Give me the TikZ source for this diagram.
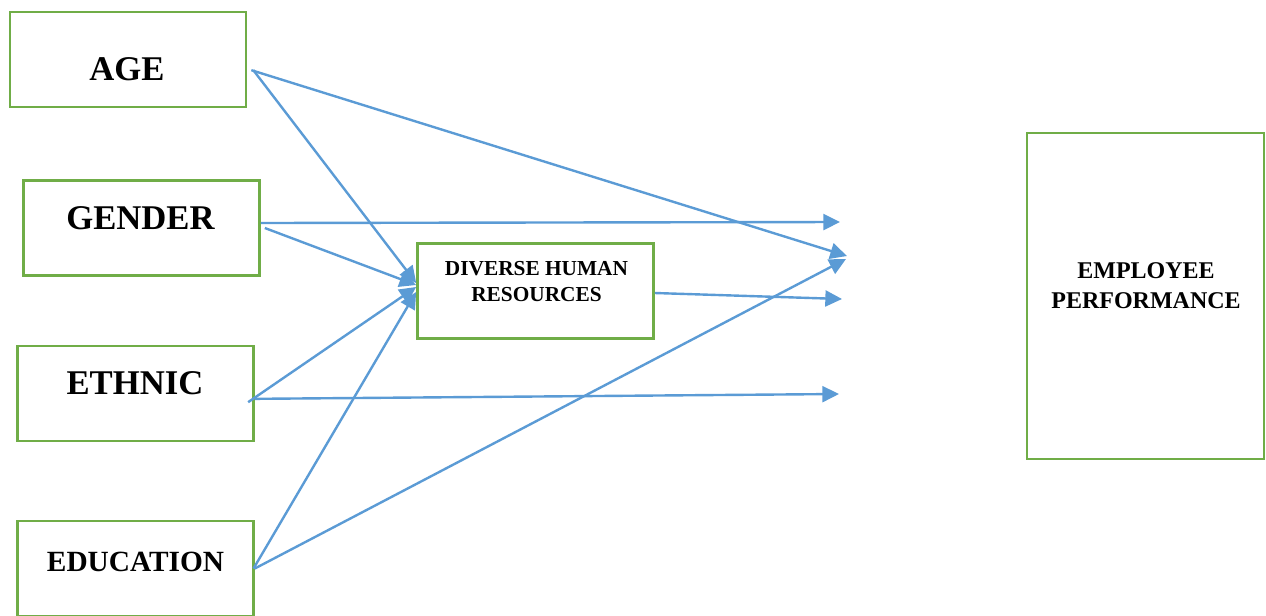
\documentclass[tikz,border=0pt]{standalone}
\usepackage{fontspec}
\setmainfont{Liberation Serif}
\usetikzlibrary{arrows.meta}
\definecolor{boxgreen}{HTML}{70AD47}
\definecolor{linkblue}{HTML}{5B9BD5}

\begin{document}
\begin{tikzpicture}[x=.75pt,y=-.75pt,
	box/.style={draw=boxgreen,line width=2pt,inner sep=0,minimum width=177pt,minimum height=71.25pt},
	lbl/.style={font=\bfseries\fontsize{26}{31}\selectfont,anchor=base,inner sep=0},
	link/.style={draw=linkblue,line width=1.8pt,-{Triangle[length=12.5pt,width=12pt]}}]
\useasboundingbox (0,0) rectangle (1266,615);
\clip (0,0) rectangle (1266,615);
% boxes
\node[box] (age) at (128,59.5) {};
\node[box] (gender) at (141.5,228) {};
\node[box] (ethnic) at (135.5,393.5) {};
\node[box] (education) at (135.5,568.5) {};
\node[box] (dhr) at (535.5,291) {};
\node[box,minimum width=177.75pt,minimum height=244.5pt] (emp) at (1145.5,296) {};
% texts
\node[lbl] (age-t) at (127,80) {AGE};
\node[lbl] (gender-t) at (140.5,229) {GENDER};
\node[lbl] (ethnic-t) at (135,394) {ETHNIC};
\node[lbl,font=\bfseries\fontsize{22}{26}\selectfont] (education-t) at (135.5,571) {EDUCATION};
\node[font=\bfseries\fontsize{16}{19.5}\selectfont,align=center,inner sep=0] (dhr-t) at (536.5,281.5) {DIVERSE HUMAN\\RESOURCES};
\node[font=\bfseries\fontsize{18}{22.5}\selectfont,align=center,inner sep=0] (emp-t) at (1146,286) {EMPLOYEE\\PERFORMANCE};
% free ends
\coordinate (age-end) at (847,256);
\coordinate (gender-end) at (840,222);
\coordinate (dhr-end) at (842,299);
\coordinate (ethnic-end) at (839,394);
\coordinate (education-end) at (846,259);
% links
\draw[link] ([xshift=3pt,yshift=-8pt]age.east) -- (age-end);
\draw[link] ([xshift=4.5pt,yshift=-8pt]age.east) -- ([yshift=6pt]dhr.west);
\draw[link] ([yshift=3.75pt]gender.east) -- (gender-end);
\draw[link] ([xshift=3pt]gender.east) -- ([yshift=4.5pt]dhr.west);
\draw[link] ([xshift=-5pt,yshift=-6.5pt]ethnic.east) -- ([yshift=3pt]dhr.west);
\draw[link] ([yshift=-4pt]ethnic.east) -- (ethnic-end);
\draw[link] ([xshift=-1pt]education.east) -- ([yshift=-.75pt]dhr.west);
\draw[link] (education.east) -- (education-end);
\draw[link] ([yshift=-1.5pt]dhr.east) -- (dhr-end);
\end{tikzpicture}
\end{document}
